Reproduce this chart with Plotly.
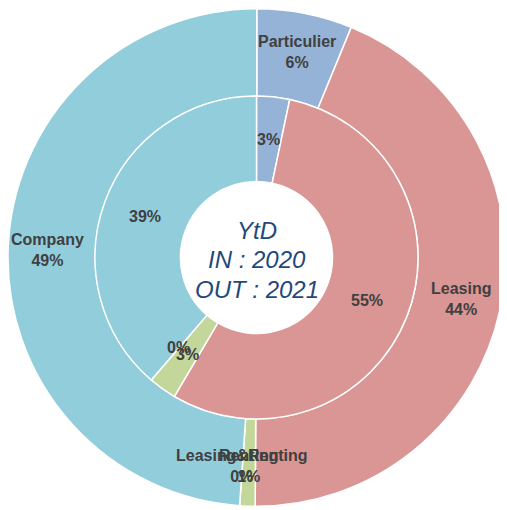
import plotly.graph_objects as go
import math

# ---- data ----
categories = ["Particulier", "Leasing", "Renting", "Leasing&Renting", "Company"]
outer_values = [6.2, 43.9, 1.0, 0.0, 48.9]   # OUT : 2021
inner_values = [3.3, 55.2, 2.8, 0.0, 38.7]   # IN : 2020
colors = ["#95B3D7", "#DA9694", "#C4D79B", "#FABF8F", "#92CDDC"]
center_text = ["YtD", "IN : 2020", "OUT : 2021"]

# page body has an 8px margin, so work in figure coordinates shifted by 8px
W, H = 507, 510
OFF = 8
cx, cy = 256.5 - OFF, 257.5 - OFF
R_out, R_mid, R_in = 249, 161.5, 76

def dom(r):
    x0 = max(0, (cx - r) / W)
    x1 = min(1, (cx + r) / W)
    y0 = max(0, 1 - (cy + r) / H)
    y1 = min(1, 1 - (cy - r) / H)
    return dict(x=[x0, x1], y=[y0, y1])

fig = go.Figure()
fig.add_trace(go.Pie(
    labels=categories, values=outer_values, sort=False, direction="clockwise",
    rotation=0, hole=R_mid / R_out, domain=dom(R_out), textinfo="none",
    marker=dict(colors=colors, line=dict(color="white", width=1.5)),
    hoverinfo="label+percent", showlegend=False))
fig.add_trace(go.Pie(
    labels=categories, values=inner_values, sort=False, direction="clockwise",
    rotation=0, hole=R_in / R_mid, domain=dom(R_mid), textinfo="none",
    marker=dict(colors=colors, line=dict(color="white", width=1.5)),
    hoverinfo="label+percent", showlegend=False))

def add_labels(values, rlab, with_name):
    total = sum(values)
    cum = 0
    for name, v in zip(categories, values):
        mid = (cum + v / 2) / total * 2 * math.pi
        cum += v
        px = cx + rlab * math.sin(mid)
        py = cy - rlab * math.cos(mid)
        pct = f"{int(v / total * 100 + 0.5)}%"
        txt = f"{name}<br>{pct}" if with_name else pct
        fig.add_annotation(x=px / W, y=1 - py / H, xref="paper", yref="paper",
                           text=txt, showarrow=False, align="center",
                           xanchor="center", yanchor="middle",
                           font=dict(family="Liberation Sans, Arial", size=16,
                                     color="#404040", weight="bold"))

add_labels(outer_values, 209, True)
add_labels(inner_values, 119, False)

for i, line in enumerate(center_text):
    ypx = 230 + i * 29.5 - OFF
    fig.add_annotation(x=cx / W, y=1 - ypx / H, xref="paper", yref="paper",
                       text=line, showarrow=False,
                       xanchor="center", yanchor="middle", align="center",
                       font=dict(family="Liberation Sans, Arial", size=24,
                                 color="#1F497D", style="italic"))

fig.update_layout(width=W, height=H, margin=dict(l=0, r=0, t=0, b=0),
                  paper_bgcolor="white", plot_bgcolor="white")
fig.write_html("out.html")
